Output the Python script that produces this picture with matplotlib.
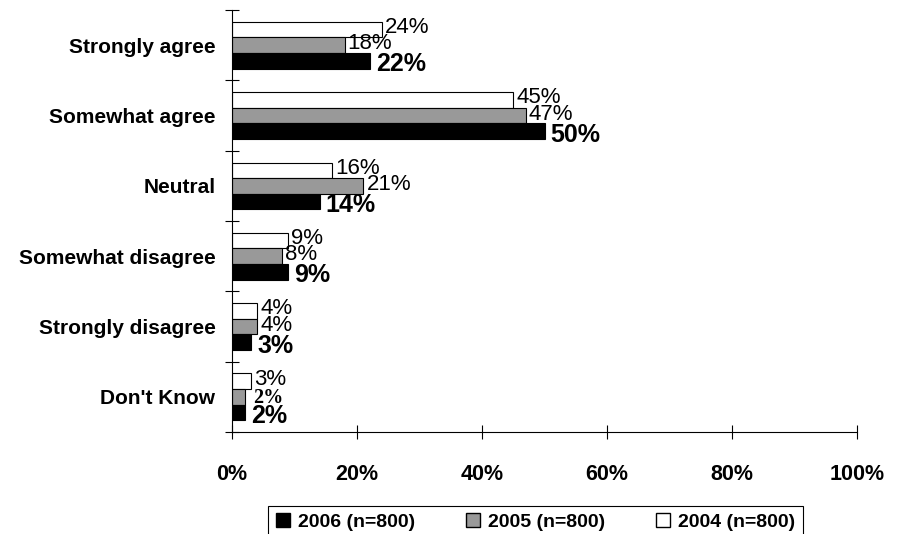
import matplotlib.pyplot as plt
from matplotlib.patches import Patch
import numpy as np

plt.rcParams['font.family'] = ['Liberation Sans', 'DejaVu Sans']

categories = ['Strongly agree', 'Somewhat agree', 'Neutral',
              'Somewhat disagree', 'Strongly disagree', "Don't Know"]
y2004 = [24, 45, 16, 9, 4, 3]
y2005 = [18, 47, 21, 8, 4, 2]
y2006 = [22, 50, 14, 9, 3, 2]
xticks = [0, 20, 40, 60, 80, 100]

fig = plt.figure(figsize=(9.05, 5.34), dpi=100)
ax = fig.add_axes([0.2564, 0.191, 0.6906, 0.790])

y = np.arange(len(categories))
h = 0.222
# bars: 2004 on top, 2005 middle, 2006 bottom
ax.barh(y - h, y2004, h, color='white', edgecolor='black', linewidth=0.8)
ax.barh(y, y2005, h, color='#999999', edgecolor='black', linewidth=0.8)
ax.barh(y + h, y2006, h, color='black', edgecolor='black', linewidth=0.8)

for i in range(len(categories)):
    ax.text(y2004[i] + 0.5, y[i] - h - 0.03, f'{y2004[i]}%', va='center', ha='left', fontsize=16)
    if categories[i] == "Don't Know":
        # this one label is drawn in a serif face in the original
        ax.text(y2005[i] + 1.3, y[i] + 0.01, f'{y2005[i]}%', va='center', ha='left', fontsize=14.5,
                fontweight='bold', family=['Liberation Serif', 'DejaVu Serif'])
    else:
        ax.text(y2005[i] + 0.5, y[i] - 0.02, f'{y2005[i]}%', va='center', ha='left', fontsize=16)
    ax.text(y2006[i] + 1.0, y[i] + h + 0.05, f'{y2006[i]}%', va='center', ha='left',
            fontsize=18, fontweight='bold')

ax.set_xlim(0, 100)
ax.set_ylim(5.5, -0.5)
ax.set_xticks(xticks)
ax.set_xticklabels([f'{t}%' for t in xticks], fontsize=15.5, fontweight='bold')
ax.set_yticks(y)
ax.set_yticklabels(categories, fontsize=15, fontweight='bold')
ax.set_yticks(np.arange(-0.5, 6.0, 1.0), minor=True)

ax.tick_params(axis='y', which='major', length=0, pad=12)
ax.tick_params(axis='y', which='minor', direction='inout', length=10, width=0.8)
ax.tick_params(axis='x', which='major', direction='inout', length=10, width=0.8, pad=18)

for s in ['top', 'right']:
    ax.spines[s].set_visible(False)
ax.spines['left'].set_linewidth(0.8)
ax.spines['bottom'].set_linewidth(0.8)

handles = [Patch(facecolor='black', edgecolor='black', label='2006 (n=800)'),
           Patch(facecolor='#999999', edgecolor='black', label='2005 (n=800)'),
           Patch(facecolor='white', edgecolor='black', label='2004 (n=800)')]
leg = fig.legend(handles=handles, loc='upper center', bbox_to_anchor=(0.592, 0.053), ncol=3,
                 fancybox=False, edgecolor='black', framealpha=1,
                 prop={'weight': 'bold', 'size': 14}, handlelength=0.7, handleheight=0.7,
                 handletextpad=0.45, columnspacing=2.6, borderpad=0.4, borderaxespad=0)
leg.get_frame().set_linewidth(0.8)

fig.savefig('out.png', dpi=100)
